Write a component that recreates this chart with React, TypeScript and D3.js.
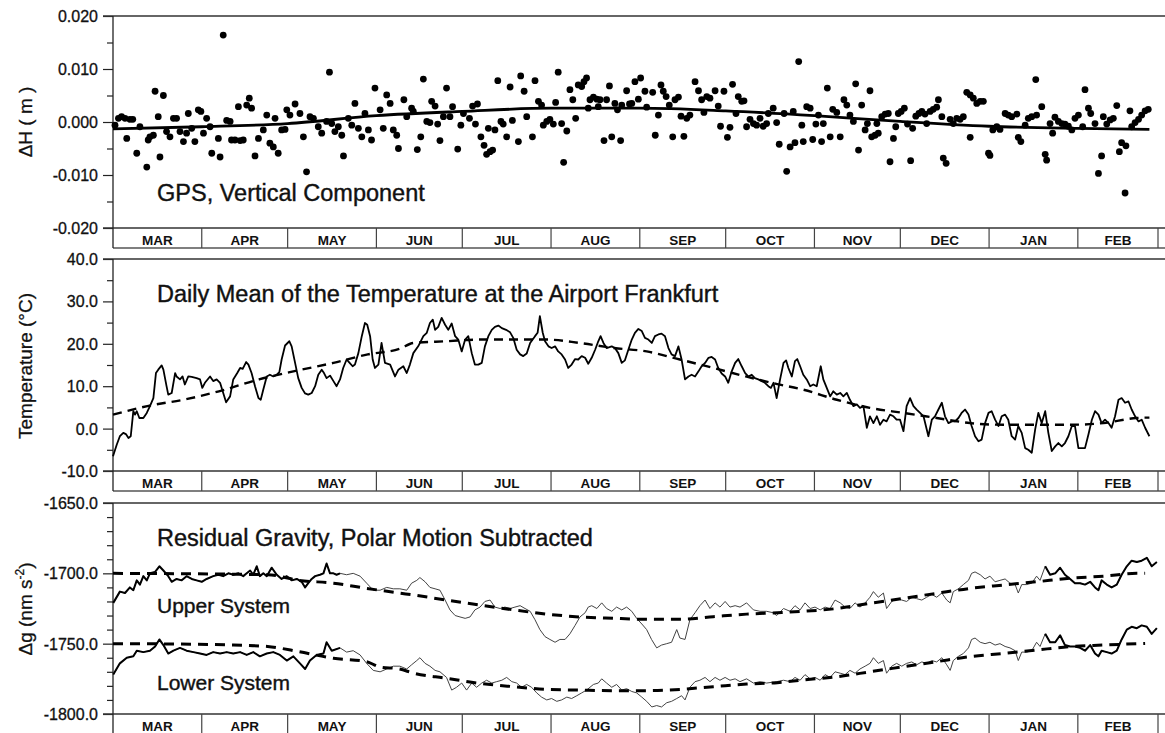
import { useEffect, useRef } from "react";
import * as d3 from "d3";

// one year of daily data, starting 1 March
const startDate = new Date(Date.UTC(1998, 2, 1));
const endDate = new Date(Date.UTC(1999, 2, 1));
const monthLabels = ["MAR", "APR", "MAY", "JUN", "JUL", "AUG", "SEP", "OCT", "NOV", "DEC", "JAN", "FEB"];

const gpsTicks = [-0.02, -0.01, 0, 0.01, 0.02];
const gpsMinorTicks = [-0.015, -0.005, 0.005, 0.015];
const tempTicks = [-10, 0, 10, 20, 30, 40];
const tempMinorTicks = [-5, 5, 15, 25, 35];
const gravTicks = [-1800, -1750, -1700, -1650];
const gravMinorTicks = [-1790, -1780, -1770, -1760, -1740, -1730, -1720, -1710, -1690, -1680, -1670, -1660];

// GPS vertical component: [day since 1 March, mm]
const gpsHeights = [
  [0.7,-0.6],[1.9,0.7],[3.0,1.0],[4.2,0.7],[4.8,-3.1],[5.9,0.5],[6.9,0.5],[8.3,-5.9],[9.4,-0.9],[11.8,-8.5],
  [12.3,-3.4],[12.9,-2.8],[14.1,-2.5],[14.7,5.8],[15.8,1.0],[16.4,-6.6],[17.6,5.0],[18.7,-1.8],[19.9,-2.8],[21.1,0.7],
  [22.2,0.7],[23.4,-1.8],[24.6,-3.7],[25.7,-2.1],[26.3,1.6],[27.5,-1.2],[28.6,-3.7],[29.8,2.3],[30.7,2.0],[31.6,-2.1],
  [32.7,0.7],[33.9,-0.9],[34.5,-5.9],[36.8,-3.1],[37.4,-6.6],[38.5,16.4],[39.7,0.3],[40.9,0.1],[41.4,-3.4],[42.6,-3.4],
  [43.8,2.9],[44.4,-3.5],[45.5,-3.4],[46.7,3.2],[47.6,4.5],[48.4,2.6],[49.6,-6.4],[50.8,-3.1],[52.5,-1.5],[53.7,1.3],
  [54.8,-4.0],[56.0,-4.7],[56.6,0.7],[57.7,-5.9],[58.9,-1.5],[60.1,-1.4],[60.7,2.3],[61.8,1.3],[63.6,3.4],[65.3,1.6],
  [66.5,-2.8],[67.6,-9.4],[68.8,1.0],[70.0,0.7],[71.7,-0.9],[72.9,-2.1],[74.6,0.1],[75.6,9.4],[76.4,-0.3],[77.5,-1.8],
  [78.7,-0.9],[79.9,-2.5],[80.5,-6.4],[82.2,0.7],[83.4,-0.6],[84.5,3.5],[85.7,-1.2],[86.9,-2.8],[88.0,1.6],[89.2,-1.5],
  [90.3,-3.4],[91.5,6.4],[93.3,2.3],[94.4,-1.2],[95.6,5.1],[96.8,3.5],[97.9,-1.5],[99.1,-2.5],[99.7,-5.0],[101.6,4.2],
  [102.6,1.0],[104.3,2.6],[104.9,2.0],[106.3,-5.2],[107.5,-2.8],[108.4,8.1],[109.6,0.1],[110.7,-0.1],[111.3,3.9],[112.5,3.0],
  [113.4,-0.4],[114.2,-3.5],[115.4,1.0],[116.5,6.4],[117.7,1.0],[118.6,2.9],[120.4,-5.1],[121.5,-0.6],[122.4,1.6],[124.5,0.7],
  [125.6,3.0],[126.6,-0.4],[127.3,3.4],[128.5,-2.8],[129.6,-4.4],[130.5,-6.1],[131.1,-1.2],[131.7,-5.6],[132.6,-5.3],[133.4,-1.5],
  [134.4,7.8],[135.5,0.1],[136.3,-0.4],[137.5,-2.8],[138.7,6.6],[139.5,0.3],[141.6,-3.7],[142.4,8.7],[143.6,5.8],[144.5,1.0],
  [146.5,-2.8],[147.4,7.8],[148.6,3.9],[149.7,3.2],[150.3,-0.6],[151.5,0.1],[152.6,0.5],[153.8,-0.4],[154.6,3.7],[155.5,9.4],
  [156.7,-0.3],[157.4,-7.6],[158.5,-1.7],[159.6,6.1],[160.6,4.2],[161.6,0.7],[162.5,7.0],[163.7,6.7],[164.5,7.6],[165.4,8.3],
  [166.0,2.6],[166.6,4.2],[167.8,4.7],[169.0,4.3],[169.5,2.9],[170.1,4.2],[171.5,-3.5],[172.4,4.2],[173.4,6.8],[174.2,-2.8],
  [175.3,3.5],[176.2,2.3],[177.3,-3.5],[177.7,3.2],[179.4,5.9],[180.4,3.4],[181.2,3.5],[182.3,7.6],[183.5,4.3],[184.3,8.3],
  [185.8,5.8],[186.4,2.8],[188.5,5.6],[189.4,-2.5],[190.5,1.3],[191.4,7.0],[192.2,5.8],[193.2,4.8],[194.3,3.2],[195.5,-2.8],
  [196.3,4.2],[197.5,4.7],[198.4,1.1],[199.4,-2.7],[200.4,0.7],[201.5,1.3],[203.3,7.6],[204.5,5.9],[205.6,4.2],[206.4,1.8],
  [207.4,4.8],[208.5,4.5],[210.3,5.9],[211.4,3.0],[212.2,-0.8],[213.4,5.8],[214.6,-2.9],[215.5,-1.0],[216.4,7.1],[217.6,1.6],
  [218.4,4.8],[219.6,3.9],[220.4,4.0],[221.3,-0.9],[222.5,0.5],[223.7,-0.3],[224.8,-0.6],[226.0,0.7],[227.1,-0.8],[228.3,-0.3],
  [228.9,1.6],[230.6,2.6],[231.8,-0.1],[232.7,-4.2],[234.4,1.6],[235.3,-9.3],[236.5,-4.7],[237.6,2.0],[238.2,-3.9],[239.5,11.4],
  [240.6,-0.6],[241.1,-3.7],[242.3,2.9],[243.5,2.6],[244.4,-3.3],[245.5,-0.4],[246.4,1.3],[247.5,-3.7],[248.1,-0.3],[249.5,6.4],
  [250.5,-2.8],[251.4,2.4],[252.8,1.8],[254.0,-2.8],[255.3,4.2],[256.3,3.2],[257.4,1.3],[258.6,0.1],[259.4,7.2],[260.4,-5.3],
  [261.5,3.2],[262.7,-1.5],[263.5,-0.3],[264.4,5.9],[265.0,-2.8],[266.2,-2.5],[266.8,-0.3],[267.3,-2.1],[268.5,1.0],[269.7,1.5],
  [270.8,1.6],[271.4,-7.5],[272.6,-3.1],[273.4,-0.9],[274.3,1.6],[275.3,2.0],[276.4,2.6],[277.5,-0.4],[278.6,-7.3],[279.3,-1.2],
  [280.4,1.1],[281.5,1.6],[282.5,2.0],[283.6,1.5],[284.2,-0.3],[285.4,2.0],[286.5,2.4],[287.7,2.8],[288.3,4.2],[289.5,1.0],
  [290.0,-6.8],[291.0,-7.8],[292.4,0.5],[293.5,-0.3],[294.7,0.7],[295.9,0.5],[297.0,1.0],[298.2,5.6],[299.4,5.1],[299.4,-2.9],
  [300.5,4.5],[301.7,3.5],[302.9,3.9],[304.0,3.9],[305.8,-5.9],[306.3,-6.3],[307.3,-1.5],[308.7,-0.9],[309.8,-1.4],[311.6,1.6],
  [312.7,1.3],[313.9,1.0],[315.7,1.5],[316.2,-2.9],[317.1,-3.7],[318.6,-0.6],[319.7,0.7],[320.9,1.0],[322.3,8.0],[322.6,1.3],
  [324.4,2.9],[325.6,-6.1],[326.1,-7.2],[327.3,-0.3],[328.2,-2.1],[329.0,0.9],[330.2,0.1],[331.4,-0.3],[332.5,-0.4],[333.7,-0.8],
  [334.9,-1.5],[336.0,0.7],[337.2,1.3],[338.7,-0.9],[339.5,6.1],[340.7,2.6],[341.5,1.6],[343.0,-0.3],[344.2,-9.7],[345.3,-6.4],
  [345.9,1.0],[347.1,-0.4],[348.3,0.4],[349.4,0.7],[350.6,3.1],[351.5,-5.6],[352.3,-3.9],[353.5,-13.4],[353.8,-4.5],[355.2,2.1],
  [355.8,-0.9],[357.0,-0.1],[358.2,0.5],[359.3,1.3],[360.5,2.1],[361.6,2.4],
];

// annual fit through the GPS heights: [day, mm]
const gpsFit = [
  [0,-1.3],[31,-0.9],[61,-0.3],[92,1.2],[122,2.0],[153,2.6],[184,2.6],[214,2.1],[245,1.2],[275,0.1],[306,-0.8],[337,-1.2],[362,-1.4],
];

// daily mean temperature, Frankfurt airport: [day, degC]
const temperature = [
  [0.0,-6.5],[1.3,-3.8],[2.4,-1.8],[3.6,-1.0],[4.5,-1.3],[5.4,-2.2],[6.2,-1.8],[7.1,4.1],[7.7,3.3],[8.3,4.1],
  [9.2,2.5],[10.6,2.5],[11.8,3.7],[12.9,5.3],[14.1,7.2],[15.0,13.1],[15.8,13.9],[17.0,14.9],[17.6,13.9],[18.7,10.0],
  [19.3,8.0],[20.5,8.4],[21.7,13.1],[22.2,12.3],[23.4,11.6],[24.3,12.3],[25.1,10.4],[26.3,12.3],[27.5,12.2],[29.2,11.9],
  [30.4,11.6],[31.2,9.6],[32.1,10.8],[33.9,12.3],[35.0,11.2],[36.2,11.6],[37.4,10.8],[38.5,8.4],[39.5,6.2],[40.9,7.6],
  [42.0,11.6],[43.4,13.1],[44.4,14.3],[45.3,14.1],[46.5,15.7],[47.3,15.1],[48.4,13.1],[49.6,10.0],[50.8,7.2],[51.6,6.8],
  [52.5,9.2],[53.7,12.3],[54.8,12.7],[56.0,12.3],[57.2,12.7],[58.1,13.3],[58.9,16.3],[60.1,19.6],[61.6,20.6],[62.4,19.4],
  [63.6,15.5],[64.7,11.9],[65.9,9.6],[67.1,8.3],[68.2,8.0],[69.4,8.4],[70.6,10.0],[71.7,12.7],[72.9,13.9],[73.7,13.1],
  [74.6,11.9],[75.8,12.5],[77.0,11.2],[78.1,10.0],[79.3,11.6],[80.4,14.3],[81.6,16.3],[82.5,15.6],[83.7,14.7],[84.5,15.1],
  [85.7,17.8],[86.9,21.8],[88.0,24.9],[88.8,24.5],[89.8,21.8],[90.7,16.3],[91.5,14.3],[92.7,15.1],[93.8,20.2],[95.0,15.5],
  [96.8,15.1],[98.5,12.3],[99.7,13.9],[101.4,14.7],[102.6,13.1],[103.7,15.1],[104.9,17.8],[106.6,19.4],[108.4,21.8],[109.6,22.6],
  [110.7,24.9],[111.7,25.7],[112.5,23.3],[113.6,24.0],[114.8,26.1],[116.0,24.5],[117.1,23.3],[118.3,24.8],[119.5,21.8],[120.6,21.0],
  [121.8,18.2],[123.0,21.0],[124.1,21.8],[125.3,17.8],[126.4,15.1],[127.6,15.1],[128.8,15.5],[129.9,19.4],[131.1,21.8],[132.3,23.3],
  [133.4,24.0],[134.6,24.3],[135.8,23.7],[137.3,23.3],[138.7,22.7],[139.8,21.4],[141.0,18.6],[142.2,17.5],[143.3,17.1],[144.5,17.7],
  [145.7,20.2],[147.4,21.8],[148.3,22.6],[149.1,26.5],[150.1,22.6],[150.9,20.6],[152.1,19.4],[153.2,19.0],[154.4,19.4],[155.5,18.2],
  [156.7,17.5],[157.9,16.3],[159.0,14.3],[160.2,15.1],[161.4,16.4],[162.5,16.3],[163.7,17.1],[164.9,16.7],[166.0,15.3],[167.2,16.7],
  [168.4,18.6],[169.5,20.6],[170.3,21.8],[171.3,20.2],[172.4,19.0],[174.2,19.4],[175.3,19.0],[176.5,17.8],[177.7,15.5],[178.8,16.1],
  [180.0,18.6],[181.2,21.0],[182.3,22.6],[183.5,23.5],[184.7,23.0],[185.8,21.4],[187.0,21.0],[188.2,20.2],[189.3,21.8],[190.5,22.2],
  [191.6,22.4],[192.8,21.8],[194.0,19.0],[195.1,17.5],[196.3,17.1],[197.5,19.4],[198.6,16.3],[199.8,11.6],[201.0,12.3],[202.1,12.7],
  [203.3,12.3],[204.5,13.5],[205.6,14.7],[206.8,15.5],[208.0,16.7],[209.1,16.9],[210.3,16.3],[211.4,14.3],[212.6,13.0],[213.8,12.3],
  [214.9,10.8],[216.1,13.5],[217.3,15.5],[218.4,16.4],[219.6,14.7],[220.8,13.1],[221.9,12.3],[223.1,12.7],[224.2,11.9],[225.4,11.6],
  [226.6,11.2],[227.7,10.8],[228.9,10.0],[229.8,9.6],[230.7,10.8],[231.8,7.2],[233.0,11.6],[234.2,15.5],[235.1,16.1],[235.9,14.3],
  [237.1,12.3],[238.2,15.9],[239.0,16.4],[240.0,14.7],[241.1,12.7],[242.3,11.6],[243.5,10.0],[244.6,10.4],[245.8,10.0],[247.2,14.7],
  [248.1,11.6],[249.3,9.6],[250.5,7.6],[251.6,8.8],[252.8,8.0],[254.0,8.4],[255.1,7.6],[256.3,8.4],[257.4,6.8],[258.6,5.3],
  [259.8,5.7],[260.9,4.9],[262.1,5.3],[263.3,0.2],[264.4,2.9],[265.6,1.3],[266.8,2.9],[267.9,0.9],[269.1,2.1],[270.2,1.7],
  [271.4,3.3],[272.6,2.9],[273.7,2.1],[274.9,2.1],[276.1,-0.6],[277.2,5.3],[278.4,7.2],[279.6,5.3],[280.7,4.5],[281.9,3.7],
  [283.1,2.9],[284.8,-1.8],[286.0,2.1],[287.1,2.9],[288.3,4.5],[289.5,6.1],[290.6,2.9],[291.8,1.3],[293.0,1.7],[294.1,1.7],
  [295.3,2.5],[296.4,3.7],[297.6,4.5],[298.8,3.3],[299.9,0.6],[301.1,-1.8],[302.3,-3.0],[303.4,-2.6],[304.6,1.3],[305.8,3.7],
  [306.9,4.1],[308.1,2.1],[309.3,0.6],[310.4,2.9],[311.6,3.3],[312.7,2.1],[313.9,-1.8],[315.1,-2.6],[316.2,0.6],[317.4,-1.0],
  [318.6,-4.6],[319.7,-5.0],[320.9,-5.7],[322.1,-0.2],[323.2,3.7],[324.4,1.3],[325.6,4.1],[326.7,-1.0],[327.9,-5.3],[329.1,-4.2],
  [330.2,-3.4],[331.4,-4.2],[332.5,-3.4],[333.7,-1.8],[334.9,0.6],[336.0,0.6],[337.2,-4.6],[338.4,-4.6],[339.5,-4.6],[340.7,-1.4],
  [341.9,2.1],[343.0,4.1],[344.2,3.3],[345.3,1.3],[346.5,2.1],[347.7,1.3],[348.8,0.2],[350.0,2.9],[351.2,6.8],[352.3,7.2],
  [353.5,6.1],[354.7,6.4],[355.8,4.5],[357.0,2.9],[358.2,1.7],[359.3,2.1],[360.5,0.2],[362.0,-1.8],
];

const temperatureFit = [
  [0,3.3],[12,5.3],[26,7.0],[37,8.8],[51,11.6],[63,13.5],[77,15.5],[89,17.5],[100,18.8],[105,20.2],[116.5,20.6],
  [128,21.0],[140,21.0],[151.5,21.0],[163,20.2],[175,19.0],[186.4,18.2],[198,16.3],[209.7,14.3],[221,12.3],[232,10.5],
  [241,9.2],[252.8,6.8],[264.4,4.9],[276,3.7],[287.7,2.5],[299.4,1.3],[311,0.9],[322.6,0.9],[334.3,0.9],[345.9,1.3],
  [357.6,2.5],[362,2.6],
];

// residual gravity, polar motion subtracted: [day, nm/s^2]
const gravityUpper = [
  [0.1,-1721],[2.4,-1713],[4.2,-1714],[5.9,-1710],[7.1,-1712],[8.3,-1705],[9.4,-1708],[10.6,-1702],[11.8,-1705],[12.9,-1700],
  [14.7,-1699],[16.2,-1695],[17.6,-1698],[19.3,-1702],[20.5,-1706],[22.2,-1704],[24.0,-1705],[25.7,-1702],[27.5,-1704],[29.2,-1705],
  [31.0,-1706],[32.7,-1704],[35.0,-1702],[36.8,-1701],[38.5,-1702],[40.3,-1700],[42.0,-1701],[43.8,-1700],[45.5,-1702],[46.7,-1700],
  [47.9,-1698],[49.0,-1701],[50.2,-1695],[51.3,-1702],[52.5,-1700],[53.7,-1702],[55.4,-1696],[57.2,-1701],[58.9,-1704],[60.7,-1702],
  [62.4,-1705],[64.2,-1704],[65.9,-1706],[67.1,-1710],[68.2,-1707],[69.4,-1704],[70.6,-1702],[72.3,-1701],[73.5,-1700],[74.6,-1693],
  [75.8,-1700],[77.0,-1700],[78.1,-1701],[79.3,-1700],[81.6,-1701],[83.9,-1700],[86.3,-1702],[88.6,-1707],[90.9,-1712],[93.3,-1712],
  [95.6,-1710],[97.9,-1711],[100.2,-1711],[102.6,-1712],[104.3,-1707],[106.1,-1705],[107.2,-1703],[109.0,-1706],[110.7,-1710],[112.5,-1711],
  [114.2,-1712],[116.0,-1719],[117.7,-1726],[119.5,-1730],[121.2,-1731],[123.0,-1732],[124.7,-1731],[126.4,-1726],[128.2,-1724],[129.9,-1720],
  [131.7,-1719],[133.4,-1724],[135.2,-1725],[136.9,-1724],[138.7,-1725],[140.4,-1724],[142.2,-1723],[143.9,-1725],[145.7,-1727],[147.4,-1733],
  [149.1,-1740],[150.9,-1745],[152.6,-1747],[154.4,-1749],[156.1,-1747],[157.9,-1747],[159.6,-1743],[161.4,-1737],[163.1,-1731],[164.9,-1728],
  [166.0,-1724],[167.2,-1723],[169.0,-1725],[170.7,-1721],[172.4,-1725],[174.2,-1727],[175.9,-1724],[177.7,-1726],[179.4,-1724],[181.2,-1727],
  [182.9,-1732],[184.7,-1736],[186.4,-1740],[188.1,-1747],[189.9,-1753],[191.6,-1751],[193.4,-1750],[195.1,-1749],[196.9,-1740],[198.0,-1746],
  [199.8,-1747],[201.5,-1733],[203.3,-1728],[205.0,-1723],[206.8,-1719],[208.5,-1725],[210.3,-1721],[212.0,-1724],[213.8,-1720],[215.5,-1724],
  [217.3,-1723],[219.0,-1724],[221.3,-1721],[223.7,-1726],[226.0,-1727],[228.3,-1727],[230.6,-1728],[231.8,-1730],[234.2,-1725],[236.5,-1727],
  [238.2,-1723],[240.0,-1726],[241.7,-1721],[243.5,-1725],[245.2,-1724],[247.0,-1726],[248.7,-1724],[250.5,-1725],[252.2,-1719],[254.0,-1721],
  [255.7,-1724],[257.4,-1725],[259.2,-1721],[260.9,-1724],[262.7,-1721],[264.4,-1717],[265.6,-1713],[267.3,-1717],[269.1,-1714],[270.2,-1725],
  [272.0,-1720],[273.7,-1718],[275.5,-1719],[277.2,-1720],[279.0,-1717],[280.7,-1718],[282.5,-1719],[284.2,-1717],[286.0,-1715],[287.7,-1717],
  [289.5,-1714],[291.2,-1719],[292.4,-1721],[293.5,-1713],[295.3,-1711],[297.0,-1708],[298.8,-1705],[299.9,-1700],[301.1,-1699],[302.9,-1701],
  [304.6,-1704],[306.3,-1702],[308.1,-1706],[309.8,-1705],[311.6,-1704],[313.3,-1707],[315.1,-1708],[316.2,-1714],[317.4,-1708],[319.1,-1708],
  [320.9,-1707],[322.6,-1702],[323.8,-1705],[325.6,-1695],[327.3,-1701],[329.1,-1700],[330.8,-1696],[332.5,-1701],[334.3,-1704],[336.0,-1707],
  [337.8,-1707],[339.5,-1708],[341.3,-1706],[343.0,-1710],[344.2,-1712],[345.3,-1705],[347.1,-1708],[348.8,-1710],[350.6,-1708],[352.3,-1701],
  [354.1,-1695],[355.8,-1691],[357.6,-1692],[359.3,-1691],[361.1,-1689],[362.8,-1695],[364.6,-1692],
];

const gravityLower = [
  [0.1,-1772],[2.4,-1764],[4.8,-1760],[7.1,-1759],[8.3,-1755],[10.6,-1756],[12.9,-1755],[14.7,-1752],[16.2,-1747],[17.6,-1751],
  [19.3,-1757],[21.1,-1755],[23.4,-1753],[25.7,-1755],[28.1,-1756],[30.4,-1757],[32.7,-1758],[35.0,-1756],[37.4,-1757],[39.7,-1756],
  [42.0,-1757],[44.4,-1756],[46.7,-1758],[49.0,-1756],[51.3,-1759],[53.7,-1757],[56.0,-1756],[58.3,-1758],[60.7,-1762],[63.0,-1759],
  [65.3,-1764],[67.1,-1768],[68.8,-1762],[71.1,-1758],[73.5,-1757],[74.6,-1749],[76.4,-1755],[79.3,-1753],[81.6,-1756],[83.9,-1755],
  [86.3,-1758],[88.6,-1764],[90.9,-1769],[93.3,-1770],[95.6,-1768],[97.9,-1766],[100.2,-1766],[102.6,-1768],[104.3,-1765],[106.1,-1762],
  [107.2,-1760],[109.0,-1764],[110.7,-1766],[112.5,-1769],[114.2,-1770],[116.5,-1774],[118.3,-1783],[120.0,-1781],[121.8,-1778],[123.5,-1783],
  [125.3,-1778],[127.0,-1781],[128.8,-1778],[130.5,-1776],[132.3,-1778],[134.0,-1777],[135.8,-1776],[137.5,-1774],[139.3,-1777],[141.0,-1778],
  [142.7,-1781],[144.5,-1779],[146.2,-1781],[148.0,-1785],[149.7,-1788],[151.5,-1790],[153.2,-1789],[155.0,-1791],[156.7,-1790],[158.5,-1788],
  [160.2,-1789],[162.0,-1787],[163.7,-1785],[165.4,-1783],[166.6,-1781],[167.8,-1779],[169.5,-1778],[170.7,-1775],[172.4,-1778],[174.2,-1781],
  [175.9,-1779],[177.7,-1783],[179.4,-1782],[181.2,-1784],[182.9,-1785],[184.7,-1788],[186.4,-1791],[188.2,-1795],[189.9,-1794],[191.6,-1795],
  [193.4,-1792],[195.1,-1791],[196.9,-1789],[198.6,-1787],[199.8,-1790],[201.5,-1781],[203.3,-1777],[205.0,-1776],[206.8,-1774],[208.5,-1777],
  [210.3,-1774],[212.0,-1776],[213.8,-1774],[215.5,-1776],[217.3,-1775],[219.0,-1777],[221.3,-1775],[223.7,-1778],[226.0,-1777],[228.3,-1778],
  [231.8,-1777],[234.2,-1776],[236.5,-1777],[238.2,-1774],[240.0,-1776],[241.7,-1772],[243.5,-1775],[245.2,-1774],[247.0,-1776],[248.7,-1772],
  [250.5,-1774],[252.2,-1770],[254.0,-1771],[255.7,-1772],[257.4,-1769],[259.2,-1771],[260.9,-1768],[262.7,-1766],[264.4,-1764],[265.6,-1760],
  [267.3,-1764],[269.1,-1762],[270.2,-1771],[272.0,-1766],[273.7,-1764],[275.5,-1766],[277.2,-1764],[279.0,-1763],[280.7,-1765],[282.5,-1763],
  [284.2,-1764],[286.0,-1762],[287.7,-1763],[289.5,-1760],[291.2,-1765],[292.4,-1769],[293.5,-1762],[295.3,-1759],[297.0,-1757],[298.8,-1753],
  [299.9,-1747],[301.1,-1746],[302.9,-1749],[304.6,-1750],[306.3,-1749],[308.1,-1751],[309.8,-1750],[311.6,-1752],[313.3,-1753],[315.1,-1755],
  [316.2,-1762],[317.4,-1756],[319.1,-1756],[320.9,-1755],[322.6,-1749],[323.8,-1752],[325.6,-1743],[327.3,-1749],[329.1,-1749],[330.8,-1744],
  [332.5,-1751],[334.3,-1752],[336.0,-1752],[337.8,-1753],[339.5,-1755],[341.3,-1751],[343.0,-1757],[344.2,-1759],[345.3,-1755],[347.1,-1756],
  [348.8,-1757],[350.6,-1755],[352.3,-1747],[354.1,-1740],[355.8,-1738],[357.6,-1739],[359.3,-1737],[361.1,-1738],[362.8,-1743],[364.6,-1739],
];

const gravityUpperFit = [
  [0,-1700],[54,-1701],[65,-1705],[77,-1707],[88.6,-1710.7],[100,-1714],[105,-1715.4],[116.5,-1719],[128,-1722.5],[140,-1726],
  [151.5,-1729],[163,-1731],[175,-1732],[186.4,-1732.7],[198,-1732.7],[209.7,-1730.8],[221.3,-1729],[232,-1728],[241,-1727],
  [252.8,-1725],[264.4,-1721.3],[276,-1717.8],[287.7,-1714.2],[299.4,-1710.7],[311,-1708.3],[322.6,-1706],[334.3,-1703.5],
  [345.9,-1702],[357.6,-1700],[360.5,-1700],
];

const gravityLowerFit = [
  [0,-1750],[19,-1750.2],[42,-1751],[54,-1752],[65,-1755.7],[77,-1760.4],[88.6,-1762.8],[93,-1766.5],[100,-1768],[105,-1771],
  [116.5,-1774.6],[128,-1778.2],[140,-1780.6],[151.5,-1782.5],[163,-1783],[175,-1783.4],[186.4,-1783.4],[198,-1782.5],
  [209.7,-1780.6],[221.3,-1778.7],[232,-1777.7],[241,-1775.8],[252.8,-1773.5],[264.4,-1770],[276,-1766.4],[287.7,-1762.8],
  [299.4,-1759.2],[311,-1756.9],[322.6,-1754.5],[334.3,-1752.1],[345.9,-1751],[360.5,-1749.8],
];

const WIDTH = 1165;
const HEIGHT = 733;
const FONT = "'Liberation Sans', Arial, Helvetica, sans-serif";
const LEFT = 113;
const RIGHT = 1158;
const BAND = 20;

const panels = [
  { top: 16, bottom: 228, domain: [-0.02, 0.02], major: gpsTicks, minor: gpsMinorTicks, digits: 3 },
  { top: 259, bottom: 471, domain: [-10, 40], major: tempTicks, minor: tempMinorTicks, digits: 1 },
  { top: 503, bottom: 714, domain: [-1800, -1650], major: gravTicks, minor: gravMinorTicks, digits: 1 },
];

function draw(svgEl: SVGSVGElement) {
  const svg = d3.select(svgEl);
  svg.selectAll("*").remove();

  const x = d3.scaleUtc().domain([startDate, endDate]).range([LEFT, RIGHT]);
  const dayX = (d: number) => x(new Date(startDate.getTime() + d * 864e5));
  const months = d3.utcMonth.range(startDate, endDate);

  const ys = panels.map((p) =>
    d3.scaleLinear().domain(p.domain).range([p.bottom, p.top])
  );

  panels.forEach((p, i) => {
    const y = ys[i];
    const g = svg.append("g");

    // major and minor ticks
    const major = d3
      .axisLeft(y)
      .tickValues(p.major)
      .tickSize(10)
      .tickPadding(5)
      .tickFormat((v) => (+v).toFixed(p.digits));
    const ax = g.append("g").attr("transform", `translate(${LEFT},0)`).call(major);
    ax.select(".domain").remove();
    ax.selectAll("line").attr("stroke", "#222").attr("stroke-width", 1.2);
    ax.selectAll("text")
      .attr("font-family", FONT)
      .attr("font-size", 16)
      .attr("fill", "#111")
      .attr("stroke", "#111")
      .attr("stroke-width", 0.3)
      .attr("dy", "0.34em");

    const minor = d3.axisLeft(y).tickValues(p.minor).tickSize(6).tickFormat(() => "");
    const mx = g.append("g").attr("transform", `translate(${LEFT},0)`).call(minor);
    mx.select(".domain").remove();
    mx.selectAll("line").attr("stroke", "#222").attr("stroke-width", 1.2);

    // frame lines
    const bandBottom = p.bottom + BAND;
    g.append("line")
      .attr("x1", LEFT - 10).attr("x2", WIDTH).attr("y1", p.top).attr("y2", p.top)
      .attr("stroke", "#333").attr("stroke-width", 1.3);
    g.append("line")
      .attr("x1", LEFT - 10).attr("x2", WIDTH).attr("y1", p.bottom).attr("y2", p.bottom)
      .attr("stroke", "#333").attr("stroke-width", 1.3);
    g.append("line")
      .attr("x1", LEFT).attr("x2", WIDTH).attr("y1", bandBottom).attr("y2", bandBottom)
      .attr("stroke", "#555").attr("stroke-width", 1.3);
    g.append("line")
      .attr("x1", LEFT).attr("x2", LEFT).attr("y1", p.top).attr("y2", bandBottom)
      .attr("stroke", "#222").attr("stroke-width", 1.3);

    // month band
    g.selectAll(".sep")
      .data([...months.slice(1), endDate])
      .join("line")
      .attr("x1", (m) => x(m)).attr("x2", (m) => x(m))
      .attr("y1", p.bottom).attr("y2", bandBottom)
      .attr("stroke", "#444").attr("stroke-width", 1.2);
    g.selectAll(".mlab")
      .data(months)
      .join("text")
      .attr("x", (m) => (x(m) + x(d3.utcMonth.offset(m, 1))) / 2)
      .attr("y", p.bottom + 17)
      .attr("text-anchor", "middle")
      .attr("font-family", FONT)
      .attr("font-size", 13.5)
      .attr("font-weight", "bold")
      .attr("fill", "#111")
      .text((_, k) => monthLabels[k]);
  });

  const [y1, y2, y3] = ys;

  // panel 1: GPS
  svg.append("g")
    .selectAll("circle")
    .data(gpsHeights)
    .join("circle")
    .attr("cx", (d) => dayX(d[0]))
    .attr("cy", (d) => y1(d[1] / 1000))
    .attr("r", 3.4)
    .attr("fill", "#000");

  svg.append("path")
    .datum(gpsFit)
    .attr("fill", "none")
    .attr("stroke", "#000")
    .attr("stroke-width", 2.8)
    .attr("d", d3.line<number[]>().x((d) => dayX(d[0])).y((d) => y1(d[1] / 1000)).curve(d3.curveMonotoneX));

  // panel 2: temperature
  svg.append("path")
    .attr("fill", "none")
    .attr("stroke", "#000")
    .attr("stroke-width", 2.4)
    .attr("stroke-dasharray", "9,6")
    .attr("d", d3.line<number[]>().x((d) => dayX(d[0])).y((d) => y2(d[1])).curve(d3.curveMonotoneX)(temperatureFit));
  svg.append("path")
    .attr("fill", "none")
    .attr("stroke", "#000")
    .attr("stroke-width", 1.8)
    .attr("stroke-linejoin", "round")
    .attr("d", d3.line<number[]>().x((d) => dayX(d[0])).y((d) => y2(d[1]))(temperature));

  // panel 3: gravity
  const gLine = d3.line<number[]>().x((d) => dayX(d[0])).y((d) => y3(d[1]));
  [gravityUpper, gravityLower].forEach((series) => {
    svg.append("path")
      .attr("fill", "none")
      .attr("stroke", "#444")
      .attr("stroke-width", 1)
      .attr("d", gLine(series));
    svg.append("path")
      .attr("fill", "none")
      .attr("stroke", "#000")
      .attr("stroke-width", 2)
      .attr("stroke-linejoin", "round")
      .attr("d", gLine(series.filter((d) => d[0] <= 80)));
    svg.append("path")
      .attr("fill", "none")
      .attr("stroke", "#000")
      .attr("stroke-width", 2)
      .attr("stroke-linejoin", "round")
      .attr("d", gLine(series.filter((d) => d[0] >= 324)));
  });
  [gravityUpperFit, gravityLowerFit].forEach((fit) => {
    svg.append("path")
      .attr("fill", "none")
      .attr("stroke", "#000")
      .attr("stroke-width", 3)
      .attr("stroke-dasharray", "10,7")
      .attr("d", d3.line<number[]>().x((d) => dayX(d[0])).y((d) => y3(d[1])).curve(d3.curveMonotoneX)(fit));
  });

  // titles
  const titles = [
    { text: "GPS, Vertical Component", y: 201, size: 23.5 },
    { text: "Daily Mean of the Temperature at the Airport Frankfurt", y: 302, size: 23.5 },
    { text: "Residual Gravity, Polar Motion Subtracted", y: 546, size: 23.5 },
    { text: "Upper System", y: 613, size: 21 },
    { text: "Lower System", y: 690, size: 21 },
  ];
  svg.append("g")
    .selectAll("text")
    .data(titles)
    .join("text")
    .attr("x", 157)
    .attr("y", (d) => d.y)
    .attr("font-family", FONT)
    .attr("font-size", (d) => d.size)
    .attr("fill", "#111")
    .attr("stroke", "#111")
    .attr("stroke-width", 0.4)
    .text((d) => d.text);

  // y-axis labels
  const yl = svg.append("g")
    .attr("font-family", FONT)
    .attr("font-size", 19)
    .attr("fill", "#111")
    .attr("stroke", "#111")
    .attr("stroke-width", 0.3)
    .attr("text-anchor", "middle");
  yl.append("text")
    .attr("transform", "translate(32,122) rotate(-90)")
    .text("\u0394H ( m )");
  yl.append("text")
    .attr("transform", "translate(32,366) rotate(-90)")
    .text("Temperature (\u00B0C)");
  const gl = yl.append("text").attr("transform", "translate(32,609) rotate(-90)");
  gl.append("tspan").text("\u0394g (nm s");
  gl.append("tspan").attr("font-size", 12).attr("dy", -8).text("-2");
  gl.append("tspan").attr("dy", 8).text(")");
}

export default function App() {
  const ref = useRef<SVGSVGElement>(null);

  useEffect(() => {
    if (ref.current) draw(ref.current);
  }, []);

  return (
    <svg
      ref={ref}
      width={WIDTH}
      height={HEIGHT}
      style={{ position: "absolute", left: 0, top: 0, background: "#fff" }}
    />
  );
}
